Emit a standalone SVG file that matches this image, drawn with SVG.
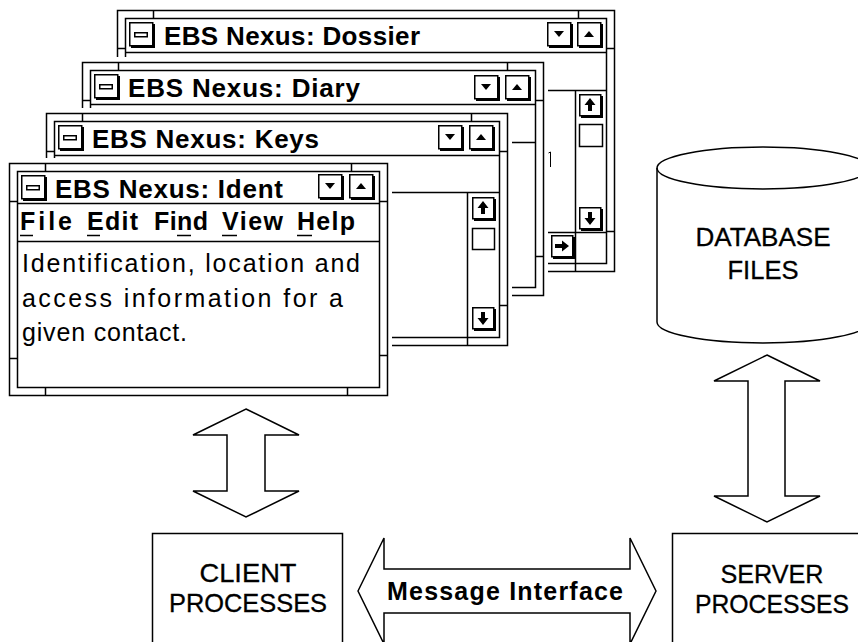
<svg xmlns="http://www.w3.org/2000/svg" xmlns:xlink="http://www.w3.org/1999/xlink" width="858" height="642" viewBox="0 0 858 642">
<style>
.f{fill:none;stroke:#000;stroke-width:1.5}
.h{fill:none;stroke:#000;stroke-width:1}
.bg{fill:#fff}
.t{font-family:"Liberation Sans",Arial,sans-serif;font-weight:bold;font-size:26px;fill:#000}
.m{font-family:"Liberation Sans",Arial,sans-serif;font-weight:bold;font-size:25px;fill:#000}
.b{font-family:"Liberation Sans",Arial,sans-serif;font-size:25px;fill:#000}
.lbl{font-family:"Liberation Sans",Arial,sans-serif;font-size:26px;fill:#000;stroke:#000;stroke-width:0.3;text-anchor:middle}
.arr{fill:#fff;stroke:#000;stroke-width:1.5;stroke-linejoin:miter}
</style>
<defs>
<g id="btn"><rect x="2" y="2" width="24" height="24" fill="#000"/><rect x="0.75" y="0.75" width="23" height="23" fill="#fff" stroke="#000" stroke-width="1.5"/></g>
<g id="bdn"><use xlink:href="#btn"/><polygon points="7,9 17,9 12,15"/></g>
<g id="bup"><use xlink:href="#btn"/><polygon points="7,15 17,15 12,9"/></g>
<g id="sys"><use xlink:href="#btn"/><rect x="5.75" y="10.75" width="12.5" height="4" fill="none" stroke="#000" stroke-width="1.5"/></g>
<g id="sbtn"><rect x="2" y="2" width="22" height="22" fill="#000"/><rect x="0.75" y="0.75" width="21" height="21" fill="#fff" stroke="#000" stroke-width="1.5"/></g>
<g id="sup"><use xlink:href="#sbtn"/><polygon points="11,4 5.5,11 9,11 9,17 13,17 13,11 16.5,11"/></g>
<g id="sdn"><use xlink:href="#sbtn"/><polygon points="11,18 5.5,11 9,11 9,5 13,5 13,11 16.5,11"/></g>
<g id="srt"><use xlink:href="#sbtn"/><polygon points="18,11 11,5.5 11,9 4,9 4,13 11,13 11,16.5"/></g>
</defs>

<g id="win-dossier">
<rect class="bg" x="112" y="5" width="508" height="272"/>
<rect class="f" x="117.5" y="10.5" width="497" height="261"/>
<rect class="f" x="125.5" y="18.5" width="481" height="245"/>
<path class="f" d="M153.5,10.5V18.5M578.5,10.5V18.5M153.5,263.5V271.5M575.5,263.5V271.5M117.5,48.5H125.5M117.5,233.5H125.5M606.5,48.5H614.5M606.5,231.5H614.5"/>
<path class="f" d="M125.5,52.5H606.5M125.5,90.5H606.5M575.5,90.5V263.5M125.5,232.5H606.5"/>
<use xlink:href="#sys" x="129" y="22"/>
<text class="t" x="164" y="45" textLength="256" lengthAdjust="spacing">EBS Nexus: Dossier</text>
<use xlink:href="#bdn" x="547" y="22"/>
<use xlink:href="#bup" x="577" y="22"/>
<use xlink:href="#sup" x="579" y="94"/>
<rect class="f" x="579.5" y="124.5" width="23" height="22"/>
<use xlink:href="#sdn" x="579" y="207"/>
<use xlink:href="#srt" x="551" y="235"/>
<path class="h" d="M548.5,153L550.5,152V167"/>
</g>

<g id="win-diary">
<rect class="bg" x="77" y="57" width="471" height="243"/>
<rect class="f" x="82.5" y="62.5" width="461" height="233"/>
<rect class="f" x="90.5" y="70.5" width="445" height="217"/>
<path class="f" d="M118.5,62.5V70.5M507.5,62.5V70.5M118.5,287.5V295.5M503.5,287.5V295.5M82.5,100.5H90.5M82.5,257.5H90.5M535.5,100.5H543.5M535.5,256.5H543.5"/>
<path class="f" d="M90.5,104.5H535.5M90.5,142.5H535.5"/>
<use xlink:href="#sys" x="94" y="74"/>
<text class="t" x="128" y="97" textLength="232" lengthAdjust="spacing">EBS Nexus: Diary</text>
<use xlink:href="#bdn" x="474" y="75"/>
<use xlink:href="#bup" x="505" y="75"/>
</g>

<g id="win-keys">
<rect class="bg" x="41" y="108" width="471" height="242"/>
<rect class="f" x="46.5" y="113.5" width="461" height="232"/>
<rect class="f" x="54.5" y="121.5" width="445" height="216"/>
<path class="f" d="M82.5,113.5V121.5M471.5,113.5V121.5M82.5,337.5V345.5M467.5,337.5V345.5M46.5,151.5H54.5M46.5,307.5H54.5M499.5,151.5H507.5M499.5,305.5H507.5"/>
<path class="f" d="M54.5,155.5H499.5M54.5,192.5H499.5M467.5,192.5V337.5"/>
<use xlink:href="#sys" x="58" y="125"/>
<text class="t" x="92" y="148" textLength="227" lengthAdjust="spacing">EBS Nexus: Keys</text>
<use xlink:href="#bdn" x="438" y="125"/>
<use xlink:href="#bup" x="469" y="125"/>
<use xlink:href="#sup" x="472" y="197"/>
<rect class="f" x="472.5" y="228.5" width="22" height="21"/>
<use xlink:href="#sdn" x="472" y="307"/>
</g>

<g id="win-ident">
<rect class="bg" x="4" y="158" width="388" height="242"/>
<rect class="f" x="9.5" y="163.5" width="378" height="232"/>
<rect class="f" x="17.5" y="171.5" width="362" height="216"/>
<path class="f" d="M45.5,163.5V171.5M351.5,163.5V171.5M45.5,387.5V395.5M347.5,387.5V395.5M9.5,201.5H17.5M9.5,358.5H17.5M379.5,201.5H387.5M379.5,355.5H387.5"/>
<path class="f" d="M17.5,203.5H379.5M17.5,241.5H379.5"/>
<use xlink:href="#sys" x="21" y="175"/>
<text class="t" x="55" y="198" textLength="228" lengthAdjust="spacing">EBS Nexus: Ident</text>
<use xlink:href="#bdn" x="318" y="174"/>
<use xlink:href="#bup" x="349" y="174"/>
<text class="m" x="20" y="230" textLength="52" lengthAdjust="spacing">File</text>
<text class="m" x="87" y="230" textLength="51" lengthAdjust="spacing">Edit</text>
<text class="m" x="154" y="230" textLength="54" lengthAdjust="spacing">Find</text>
<text class="m" x="222" y="230" textLength="61" lengthAdjust="spacing">View</text>
<text class="m" x="297" y="230" textLength="58" lengthAdjust="spacing">Help</text>
<path class="f" d="M20,235.5H33M87,235.5H100M177,235.5H191M222,235.5H237M297,235.5H312"/>
<text class="b" x="22" y="272" textLength="338" lengthAdjust="spacing">Identification, location and</text>
<text class="b" x="22" y="307" textLength="321" lengthAdjust="spacing">access information for a</text>
<text class="b" x="22" y="341" textLength="165" lengthAdjust="spacing">given contact.</text>
</g>

<g id="database">
<path class="f" d="M657,168V322A106,21 0 0 0 869,322V168"/>
<ellipse class="f" cx="763" cy="168" rx="106" ry="21"/>
<text class="lbl" x="763" y="246" textLength="135" lengthAdjust="spacingAndGlyphs">DATABASE</text>
<text class="lbl" x="763" y="279" textLength="71" lengthAdjust="spacingAndGlyphs">FILES</text>
</g>

<g id="client">
<rect class="f" x="152.5" y="533.5" width="190" height="130"/>
<text class="lbl" x="248" y="582" textLength="97" lengthAdjust="spacingAndGlyphs">CLIENT</text>
<text class="lbl" x="248" y="612" textLength="158" lengthAdjust="spacingAndGlyphs">PROCESSES</text>
</g>

<g id="server">
<rect class="f" x="672.5" y="533.5" width="220" height="130"/>
<text class="lbl" x="772" y="583" textLength="103" lengthAdjust="spacingAndGlyphs">SERVER</text>
<text class="lbl" x="772" y="613" textLength="154" lengthAdjust="spacingAndGlyphs">PROCESSES</text>
</g>

<g id="connectors">
<polygon class="arr" points="246,409 299,435 265,435 265,491 299,491 246,517 193,491 227,491 227,435 193,435"/>
<polygon class="arr" points="767,355 820,381 785,381 785,496 820,496 767,522 714,496 748,496 748,381 714,381"/>
<polygon class="arr" points="358,591 384,538 384,569 630,569 630,538 656,591 630,644 630,613 384,613 384,644"/>
<text class="m" x="387" y="600" textLength="236" lengthAdjust="spacing">Message Interface</text>
</g>
</svg>
